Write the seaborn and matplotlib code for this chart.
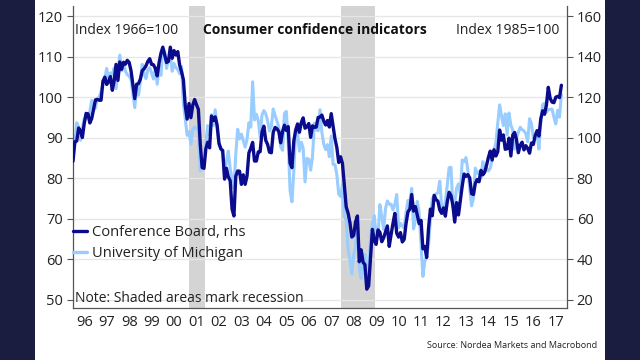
import numpy as np
import pandas as pd
import matplotlib
matplotlib.use('Agg')
import matplotlib.pyplot as plt
import seaborn as sns
from matplotlib.patches import Rectangle

# University of Michigan consumer sentiment, Index 1966=100 (monthly, Jan 1996 - Oct 2017)
michigan = [
    89.3, 88.5, 93.7, 92.7, 89.4, 92.4, 94.7, 95.3, 94.7, 96.5, 99.2, 96.9,
    97.4, 99.7, 100.0, 101.4, 103.2, 104.5, 107.1, 104.4, 106.0, 105.6, 107.2, 102.1,
    106.6, 110.4, 106.5, 108.7, 106.5, 105.6, 105.2, 104.4, 100.9, 97.4, 102.7, 100.5,
    103.9, 108.1, 105.7, 104.6, 106.8, 107.3, 106.0, 104.5, 107.2, 103.2, 107.2, 105.4,
    112.0, 111.3, 107.1, 109.2, 110.7, 106.4, 108.3, 107.3, 106.8, 105.8, 107.6, 98.4,
    94.7, 90.6, 91.5, 88.4, 92.0, 92.6, 92.4, 91.5, 81.8, 82.7, 83.9, 88.8,
    93.0, 90.7, 95.7, 93.0, 96.9, 92.4, 88.1, 87.6, 86.1, 80.6, 84.2, 86.7,
    82.4, 79.9, 77.6, 86.0, 92.1, 89.7, 90.9, 89.3, 87.7, 89.6, 93.7, 92.6,
    103.8, 94.4, 95.8, 94.2, 90.2, 95.6, 96.7, 95.9, 94.2, 91.7, 92.8, 97.1,
    95.5, 94.1, 92.6, 87.7, 86.9, 96.0, 96.5, 89.1, 76.9, 74.2, 81.6, 91.5,
    91.2, 86.7, 88.9, 87.4, 79.1, 84.9, 84.7, 82.0, 85.4, 93.6, 92.1, 91.7,
    96.9, 91.3, 88.4, 87.1, 88.3, 85.3, 90.4, 83.4, 83.4, 80.9, 76.1, 75.5,
    78.4, 70.8, 69.5, 62.6, 59.8, 56.4, 61.2, 63.0, 70.3, 57.6, 55.3, 60.1,
    61.2, 56.3, 57.3, 65.1, 68.7, 70.8, 66.0, 65.7, 73.5, 70.6, 67.4, 72.5,
    74.4, 73.6, 73.6, 72.2, 73.6, 76.0, 67.8, 68.9, 68.2, 67.7, 71.6, 74.5,
    74.2, 77.5, 67.5, 69.8, 74.3, 71.5, 63.7, 55.8, 59.5, 60.8, 63.7, 69.9,
    75.0, 75.3, 76.2, 76.4, 79.3, 73.2, 72.3, 74.3, 78.3, 82.6, 82.7, 72.9,
    73.8, 77.6, 78.6, 76.4, 84.5, 84.1, 85.1, 82.1, 77.5, 73.2, 75.1, 82.5,
    81.2, 81.6, 80.0, 84.1, 81.9, 82.5, 81.8, 82.5, 84.6, 86.9, 88.8, 93.6,
    98.1, 95.4, 93.0, 95.9, 90.7, 96.1, 93.1, 91.9, 87.2, 90.0, 91.3, 92.6,
    92.0, 91.7, 91.0, 89.0, 94.7, 93.5, 90.0, 89.8, 91.2, 87.2, 93.8, 98.2,
    98.5, 96.3, 96.9, 97.0, 97.1, 95.1, 93.4, 96.8, 95.1, 100.7,
]

# Conference Board consumer confidence, Index 1985=100 (rhs)
conference_board = [
    88.4, 98.0, 98.4, 104.8, 103.5, 100.1, 107.0, 112.0, 111.8, 107.3, 109.5, 114.2,
    118.7, 118.9, 118.5, 118.5, 127.9, 129.9, 126.3, 127.6, 130.2, 123.4, 128.1, 136.2,
    128.3, 137.4, 133.8, 137.2, 136.3, 138.2, 137.2, 133.1, 126.4, 119.3, 126.4, 126.7,
    128.9, 133.1, 134.0, 135.5, 137.7, 139.0, 136.2, 136.0, 134.2, 130.5, 137.0, 141.7,
    144.7, 140.8, 137.1, 137.7, 144.7, 139.2, 143.0, 140.8, 142.5, 135.8, 132.6, 128.6,
    115.7, 109.2, 116.9, 109.9, 116.1, 118.9, 116.3, 114.0, 97.0, 85.3, 84.9, 94.6,
    97.8, 95.0, 110.7, 108.5, 110.3, 106.3, 97.4, 94.5, 93.7, 79.6, 84.9, 80.7,
    78.8, 64.8, 61.4, 81.0, 83.6, 83.5, 77.0, 81.7, 77.0, 81.1, 92.5, 94.8,
    97.7, 88.5, 88.5, 93.0, 93.1, 102.8, 105.7, 98.7, 96.7, 92.9, 92.6, 102.7,
    105.1, 104.4, 103.0, 97.5, 103.1, 106.2, 103.6, 105.5, 87.5, 85.2, 98.3, 103.8,
    106.8, 102.7, 107.5, 109.8, 104.7, 105.4, 107.0, 100.2, 105.9, 105.1, 105.3, 110.0,
    110.2, 111.2, 108.2, 106.3, 108.5, 105.3, 111.9, 105.6, 99.5, 95.2, 87.8, 90.6,
    87.3, 76.4, 65.9, 62.8, 58.1, 51.0, 51.9, 58.5, 61.4, 38.8, 44.7, 38.6,
    37.4, 25.3, 26.9, 40.8, 54.8, 49.3, 47.4, 54.5, 53.4, 48.7, 50.6, 53.6,
    56.5, 46.4, 52.3, 57.7, 62.7, 52.9, 51.0, 53.2, 48.6, 49.9, 57.8, 63.4,
    64.8, 72.0, 63.8, 66.0, 61.7, 57.6, 59.2, 45.2, 46.4, 40.9, 55.2, 64.8,
    61.5, 71.6, 69.5, 68.7, 64.4, 62.7, 65.4, 61.3, 68.4, 73.1, 71.5, 66.7,
    58.4, 68.0, 61.9, 69.0, 76.2, 82.1, 81.0, 81.8, 80.2, 72.4, 72.0, 77.5,
    79.4, 78.3, 83.9, 81.7, 83.0, 86.4, 90.3, 93.4, 89.0, 94.1, 91.0, 93.1,
    103.8, 98.8, 101.4, 94.3, 94.6, 99.8, 91.0, 101.3, 102.6, 99.1, 92.6, 96.3,
    97.8, 94.0, 96.1, 94.7, 92.4, 97.4, 96.7, 101.1, 103.5, 100.8, 109.4, 113.3,
    111.6, 116.1, 124.9, 119.4, 117.6, 117.3, 120.0, 120.4, 119.8, 125.9,
]

# NBER recessions (start, end) in decimal years
recessions = [(2001.17, 2001.87), (2007.92, 2009.45)]
years = list(range(1996, 2018))
year_labels = [f"{y % 100:02d}" for y in years]

df = pd.DataFrame({
    't': 1996 + np.arange(len(michigan)) / 12,
    'michigan': michigan,
    'cb': conference_board,
})

DARK = '#0b0b8e'
LIGHT = '#99ccff'
GREY = '#555555'

sns.set_theme(style='white')
plt.rcParams['font.family'] = ['Open Sans', 'DejaVu Sans']

fig = plt.figure(figsize=(6.4, 3.6), dpi=100, facecolor='#1b1d40')
fig.patches.append(Rectangle((35 / 640, 0), 570 / 640, 1, transform=fig.transFigure,
                             facecolor='white', edgecolor='none', zorder=-5))

ax = fig.add_axes([73 / 640, 52 / 360, 494 / 640, 302 / 360])
ax.set_facecolor('none')
ax2 = ax.twinx()

for a, b in recessions:
    ax.axvspan(a, b, color='#d4d4d4', lw=0, zorder=0)

for v in range(50, 121, 10):
    ax.axhline(v, color='#e6e6e6', lw=0.9, zorder=0.5)

sns.lineplot(data=df, x='t', y='michigan', ax=ax, color=LIGHT, lw=2.2, zorder=2)
sns.lineplot(data=df, x='t', y='cb', ax=ax2, color=DARK, lw=2.4, zorder=3)
# draw the rhs series above the lhs one
ax2.set_zorder(ax.get_zorder() + 1)
ax2.patch.set_visible(False)

ax.set_xlim(1996, 2018)
ax.set_ylim(48, 122.5)
ax2.set_ylim(16, 165)
ax.set_yticks(range(50, 121, 10))
ax2.set_yticks(range(20, 161, 20))
ax.set_xticks(years + [2018])
ax.set_xticklabels([])
ax.set_xticks([y + 0.5 for y in years], minor=True)
ax.set_xticklabels(year_labels, minor=True)
ax.set_xlabel('')
ax.set_ylabel('')
ax2.set_ylabel('')

for a in (ax, ax2):
    a.spines['top'].set_visible(False)
    for s in ('left', 'right', 'bottom'):
        a.spines[s].set_color(GREY)
        a.spines[s].set_linewidth(0.9)
ax.spines['right'].set_visible(False)
ax2.spines['left'].set_visible(False)
ax2.spines['bottom'].set_visible(False)

ax.tick_params(axis='x', which='major', direction='out', length=4, width=0.8, color=GREY)
ax.tick_params(axis='x', which='minor', length=0, pad=5, labelsize=10.5, labelcolor='#222222')
ax.tick_params(axis='y', direction='out', length=4, width=0.8, color=GREY,
               labelsize=10.5, labelcolor='#222222', pad=3)
ax2.tick_params(axis='y', direction='out', length=4, width=0.8, color=GREY,
                labelsize=10.5, labelcolor='#222222', pad=3)

# text and legend live on the top axes so the lines never cover them
ax2.text(0.004, 0.92, 'Index 1966=100', transform=ax2.transAxes, fontsize=10,
         color='#222222', va='center', ha='left')
ax2.text(0.985, 0.92, 'Index 1985=100', transform=ax2.transAxes, fontsize=10,
         color='#222222', va='center', ha='right')
ax2.text(0.49, 0.92, 'Consumer confidence indicators', transform=ax2.transAxes,
         fontsize=10, fontweight='bold', color='#111111', va='center', ha='center')
ax2.text(0.004, 0.03, 'Note: Shaded areas mark recession', transform=ax2.transAxes,
         fontsize=10, color='#222222', va='center', ha='left')

ax2.plot([], [], color=DARK, lw=2.4, label='Conference Board, rhs')
ax2.plot([], [], color=LIGHT, lw=2.4, label='University of Michigan')
ax2.legend(loc='upper left', bbox_to_anchor=(-0.012, 0.295), frameon=False, fontsize=10.5,
           handlelength=1.0, handletextpad=0.3, labelspacing=0.45, borderaxespad=0,
           labelcolor='#222222')

fig.text(597 / 640, 15 / 360, 'Source: Nordea Markets and Macrobond', fontsize=6.5,
         color='#222222', ha='right', va='center')

fig.savefig('out.png', dpi=100, facecolor=fig.get_facecolor())
